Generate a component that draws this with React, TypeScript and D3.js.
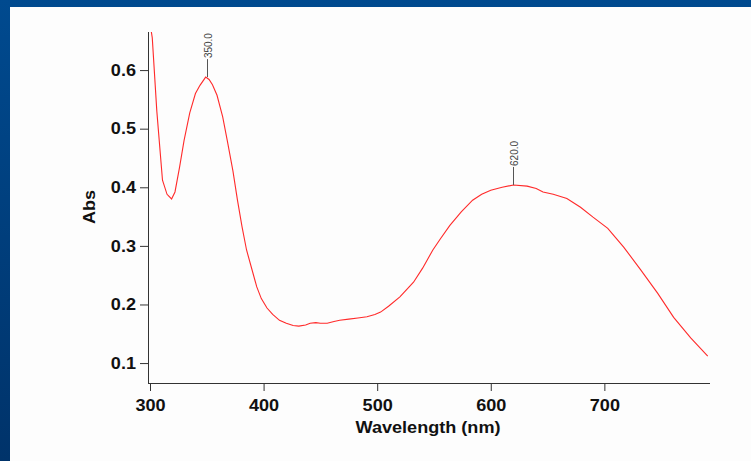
import React, {useRef, useEffect} from 'react'
import * as d3 from 'd3'

// spectrum
const wavelengths = [
  300, 302, 306, 311, 315, 319, 322, 326, 330, 335, 340, 344, 349, 352, 355, 359,
  364, 368, 373, 377, 381, 385, 390, 394, 398, 403, 408, 414, 420, 426, 431, 437,
  441, 446, 450, 456, 462, 467, 475, 483, 491, 498, 503, 510, 520, 532, 540, 549,
  556, 564, 574, 584, 592, 600, 610, 620, 632, 640, 646, 655, 667, 679, 690, 703,
  717, 732, 747, 761, 776, 791,
]
const absorbance = [
  0.68, 0.655, 0.53, 0.412, 0.388, 0.38, 0.392, 0.434, 0.48, 0.527, 0.56, 0.574,
  0.588, 0.584, 0.575, 0.557, 0.52, 0.48, 0.428, 0.378, 0.333, 0.293, 0.258, 0.23,
  0.21, 0.194, 0.183, 0.173, 0.168, 0.164, 0.163, 0.165, 0.168, 0.169, 0.168,
  0.168, 0.171, 0.173, 0.175, 0.177, 0.179, 0.183, 0.187, 0.197, 0.213, 0.238,
  0.262, 0.293, 0.313, 0.335, 0.358, 0.378, 0.388, 0.395, 0.4, 0.404, 0.402,
  0.398, 0.392, 0.388, 0.381, 0.366, 0.349, 0.33, 0.298, 0.259, 0.219, 0.178,
  0.143, 0.112,
]
const xTicks = [300, 400, 500, 600, 700]
const yTicks = [0.1, 0.2, 0.3, 0.4, 0.5, 0.6]
const peaks = [
  {nm: 350, abs: 0.588, label: '350.0'},
  {nm: 620, abs: 0.404, label: '620.0'},
]

const W = 751
const H = 461
const FONT = '"Liberation Sans", Arial, sans-serif'

function App() {
  const ref: any = useRef<SVGSVGElement>(null)

  useEffect(() => {
    const svg = d3.select(ref.current)
    svg.selectAll('*').remove()

    const x = d3.scaleLinear().domain([300, 793]).range([150, 710])
    const y = d3.scaleLinear().domain([0.066, 0.665]).range([383, 32])

    // slide background
    const defs = svg.append('defs')
    const grad = defs
      .append('linearGradient')
      .attr('id', 'bg')
      .attr('x1', '0%')
      .attr('x2', '0%')
      .attr('y1', '0%')
      .attr('y2', '100%')
    grad.append('stop').attr('offset', '0%').attr('stop-color', '#004a8f')
    grad.append('stop').attr('offset', '100%').attr('stop-color', '#00336a')
    defs
      .append('clipPath')
      .attr('id', 'plot')
      .append('rect')
      .attr('x', 148)
      .attr('y', 32)
      .attr('width', 565)
      .attr('height', 351)

    svg.append('rect').attr('width', W).attr('height', H).attr('fill', 'url(#bg)')
    svg
      .append('rect')
      .attr('x', 10)
      .attr('y', 7)
      .attr('width', W - 10)
      .attr('height', H - 7)
      .attr('fill', '#fdfdfd')

    // axes
    const xAxis = svg
      .append('g')
      .attr('transform', 'translate(0,383)')
      .call(d3.axisBottom(x).tickValues(xTicks).tickSize(8).tickSizeOuter(0).tickPadding(9))
    xAxis.select('.domain').attr('d', 'M148,0.5H710')

    const yAxis = svg
      .append('g')
      .attr('transform', 'translate(148,0)')
      .call(
        d3
          .axisLeft(y)
          .tickValues(yTicks)
          .tickFormat(d3.format('.1f'))
          .tickSize(8)
          .tickSizeOuter(0)
          .tickPadding(4),
      )
    yAxis.select('.domain').attr('d', 'M0.5,32V383')

    svg
      .selectAll('.tick text')
      .attr('class', 'bold')
      .attr('font-family', FONT)
      .attr('font-size', 16)
      .attr('font-weight', 'bold')
      .attr('fill', '#111')
    svg.selectAll('.tick line, .domain').attr('stroke', '#333')

    // axis titles
    svg
      .append('text')
      .attr('class', 'bold')
      .attr('x', 428)
      .attr('y', 433)
      .attr('text-anchor', 'middle')
      .attr('font-family', FONT)
      .attr('font-size', 16)
      .attr('font-weight', 'bold')
      .attr('fill', '#111')
      .text('Wavelength (nm)')
    svg
      .append('text')
      .attr('class', 'bold')
      .attr('transform', 'translate(95,207) rotate(-90)')
      .attr('text-anchor', 'middle')
      .attr('font-family', FONT)
      .attr('font-size', 16)
      .attr('font-weight', 'bold')
      .attr('fill', '#111')
      .text('Abs')

    // the original lettering runs a little wider than Liberation Sans
    svg.selectAll<SVGTextElement, unknown>('text.bold').each(function () {
      const len = this.getComputedTextLength()
      d3.select(this)
        .attr('textLength', len * 1.13)
        .attr('lengthAdjust', 'spacingAndGlyphs')
    })

    // spectrum
    const pts: [number, number][] = wavelengths.map((w, i) => [w, absorbance[i]])
    const line = d3
      .line<[number, number]>()
      .x(d => x(d[0]))
      .y(d => y(d[1]))
    svg
      .append('path')
      .datum(pts)
      .attr('d', line)
      .attr('fill', 'none')
      .attr('stroke', '#ff2a2a')
      .attr('stroke-width', 1.1)
      .attr('clip-path', 'url(#plot)')

    // peak markers
    peaks.forEach(p => {
      const px = Math.round(x(p.nm)) + 0.5
      const py = y(p.abs)
      svg
        .append('line')
        .attr('x1', px)
        .attr('x2', px)
        .attr('y1', py)
        .attr('y2', py - 18)
        .attr('stroke', '#555')
        .attr('stroke-width', 1)
      svg
        .append('text')
        .attr('transform', `translate(${px + 4},${py - 19}) rotate(-90)`)
        .attr('font-family', FONT)
        .attr('font-size', 10)
        .attr('fill', '#444')
        .text(p.label)
    })
  }, [])

  return (
    <svg
      ref={ref}
      width={W}
      height={H}
      style={{position: 'absolute', left: 0, top: 0, display: 'block'}}
    />
  )
}

export default App
